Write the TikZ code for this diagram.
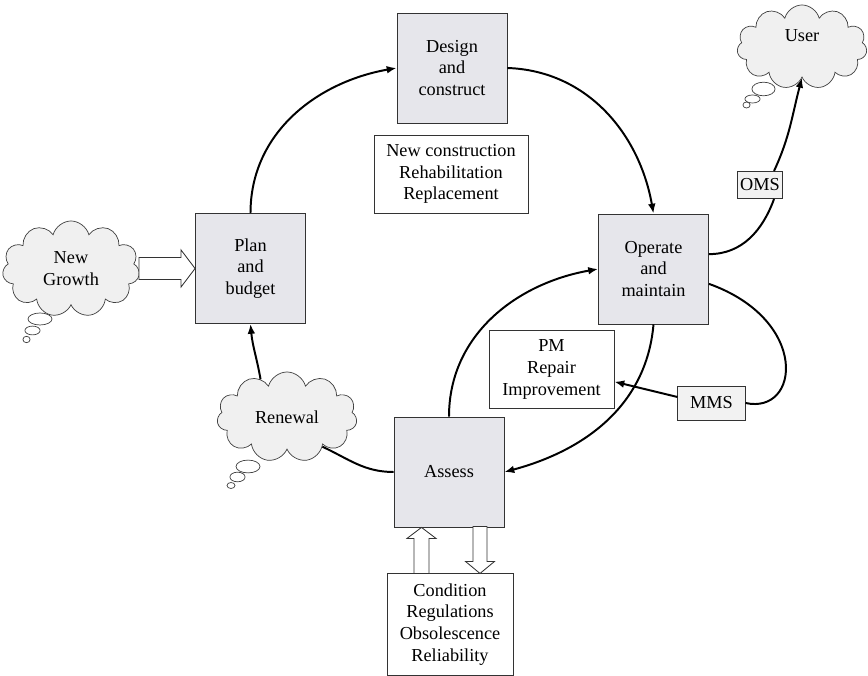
\documentclass[tikz,border=0pt]{standalone}
\usepackage{fontspec}
\setmainfont{Liberation Serif}
\usetikzlibrary{shapes.symbols,arrows.meta,calc}
\definecolor{boxgray}{RGB}{230,230,235}
\definecolor{cloudgray}{RGB}{240,240,240}

\begin{document}
\begin{tikzpicture}[x=0.025cm, y=0.025cm,
    font=\fontsize{13}{15.5}\selectfont,
    stage/.style={draw=black!80, fill=boxgray, line width=0.6pt, minimum width=2.75cm, minimum height=2.75cm, align=center, inner sep=2pt},
    listbox/.style={draw=black!80, fill=white, line width=0.6pt, align=center, inner sep=2pt},
    tagbox/.style={draw=black!80, fill=black!5, line width=0.6pt, inner sep=2pt},
    thought/.style={cloud, cloud puffs=11, cloud ignores aspect, draw=black!75, fill=cloudgray, line width=0.5pt, align=center, inner sep=0pt},
    bubble/.style={draw=black!75, fill=white, line width=0.5pt},
    hollow/.style={draw=black!80, fill=white, line width=0.6pt, line join=miter},
    flow/.style={line width=1.4pt, -{Latex[length=7pt,width=5.5pt]}},
    link/.style={line width=1.4pt}]
    \useasboundingbox (0,0) rectangle (868,676);

    \node[stage] (design) at (452,608) {Design\\and\\construct};
    \node[listbox, minimum width=3.85cm, minimum height=1.95cm] (newwork) at (451,502) {New construction\\Rehabilitation\\Replacement};
    \node[stage] (plan) at (250.5,407.5) {Plan\\and\\budget};
    \node[stage] (operate) at (653.5,407) {Operate\\and\\maintain};
    \node[stage] (assess) at (449,204) {Assess};
    \node[listbox, minimum width=3.125cm, minimum height=1.93cm] (upkeep) at (551.5,306.5) {PM\\Repair\\Improvement};
    \node[tagbox, minimum width=1.68cm, minimum height=0.85cm] (mms) at (711.5,273) {MMS};
    \node[tagbox, minimum width=1.05cm, minimum height=0.68cm] (oms) at (760,491) {OMS};
    \node[listbox, minimum width=3.15cm, minimum height=2.53cm] (drivers) at (450,51.5) {Condition\\Regulations\\Obsolescence\\Reliability};

    \node[thought, minimum width=3.43cm, minimum height=2.4cm] (growth) at (71,407) {New\\Growth};
    \node[thought, minimum width=3.5cm, minimum height=2.25cm] (renewal) at (287,259) {Renewal};
    \node[thought, minimum width=3.25cm, minimum height=2.1cm] (user) at (802,629) {\raisebox{0.55cm}{User}};

    \draw[bubble] (40,357) ellipse (0.3cm and 0.15cm);
    \draw[bubble] (32.5,345.5) ellipse (0.19cm and 0.11cm);
    \draw[bubble] (26.5,336.5) ellipse (0.09cm and 0.08cm);
    \draw[bubble] (248,209.5) ellipse (0.3cm and 0.16cm);
    \draw[bubble] (237.5,199) ellipse (0.19cm and 0.12cm);
    \draw[bubble] (231,190.5) ellipse (0.1cm and 0.075cm);
    \draw[bubble] (763.5,587) ellipse (0.29cm and 0.17cm);
    \draw[bubble] (752.5,577) ellipse (0.19cm and 0.1cm);
    \draw[bubble] (746.5,571) ellipse (0.09cm and 0.075cm);

    \draw[hollow] (plan.west) -- ++(-14,18.5) -- ++(0,-7.5) -- ++(-42,0) -- ++(0,-22) -- ++(42,0) -- ++(0,-7.5) -- cycle;
    \draw[hollow] ($(assess.south)+(-27.5,0)$) -- ++(14.5,-11) -- ++(-7,0) -- ++(0,-35) -- ++(-15,0) -- ++(0,35) -- ++(-7,0) -- cycle;
    \draw[hollow] ($(drivers.north)+(30,0)$) -- ++(14.5,12) -- ++(-7.5,0) -- ++(0,35) -- ++(-14,0) -- ++(0,-35) -- ++(-7.5,0) -- cycle;

    \draw[flow] (plan.north) to[out=90, in=190] (design.west);
    \draw[flow] (design.east) to[out=-2, in=100] (operate.north);
    \draw[flow] (operate.south) to[out=-95, in=15] (assess.east);
    \draw[flow] (assess.north) to[out=90, in=190] (operate.west);
    \draw[link] (assess.west) to[out=180, in=-25] (renewal.-40);
    \draw[flow] (renewal.125) to[out=100, in=-85] (plan.south);
    \draw[link] (operate.15) to[out=0, in=-110] (oms.-45);
    \draw[flow] (oms.45) to[out=65, in=-105] (user.south);
    \draw[link] (operate.-15) .. controls (810,356) and (800,261) .. (mms.east);
    \draw[flow] (mms.170) -- (upkeep.-11);
\end{tikzpicture}
\end{document}
